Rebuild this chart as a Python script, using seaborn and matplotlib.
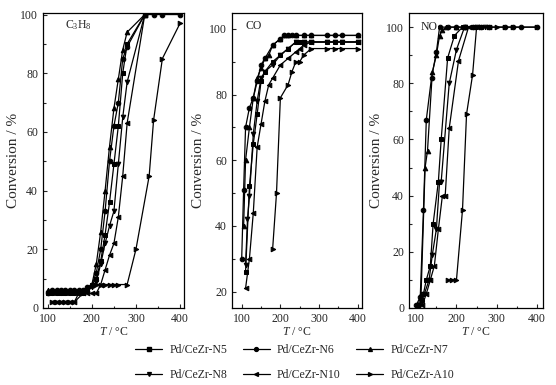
import matplotlib
matplotlib.use("Agg")
import matplotlib.pyplot as plt
import matplotlib.ticker as mticker
from matplotlib.lines import Line2D
import seaborn as sns

# series names and markers
names = ['Pd/CeZr-N5', 'Pd/CeZr-N6', 'Pd/CeZr-N7', 'Pd/CeZr-N8', 'Pd/CeZr-N10', 'Pd/CeZr-A10']
markers = ['s', 'o', '^', 'v', '<', '>']

# C3H8 conversion
c3h8_T = {
    'Pd/CeZr-N5': [100, 110, 120, 130, 140, 150, 160, 170, 180, 190, 200, 210, 220, 230, 240, 250, 260, 270, 280, 320],
    'Pd/CeZr-N6': [100, 110, 120, 130, 140, 150, 160, 170, 180, 190, 200, 210, 220, 230, 240, 250, 260, 270, 280, 320, 340, 360, 400],
    'Pd/CeZr-N7': [100, 110, 120, 130, 140, 150, 160, 170, 180, 190, 200, 210, 220, 230, 240, 250, 260, 270, 280, 320],
    'Pd/CeZr-N8': [100, 110, 120, 130, 140, 150, 160, 170, 180, 190, 200, 210, 220, 230, 240, 250, 260, 270, 280, 320],
    'Pd/CeZr-N10': [110, 120, 130, 140, 150, 160, 170, 180, 190, 200, 210, 220, 230, 240, 250, 260, 270, 280, 320],
    'Pd/CeZr-A10': [110, 120, 130, 140, 150, 160, 180, 210, 220, 230, 240, 250, 260, 280, 300, 330, 340, 360, 400],
}
c3h8_v = {
    'Pd/CeZr-N5': [5, 5, 5, 5, 5, 5, 5, 5, 5, 6, 8, 10, 16, 25, 36, 49, 62, 80, 90, 100],
    'Pd/CeZr-N6': [5, 6, 6, 6, 6, 6, 6, 6, 6, 7, 8, 12, 20, 33, 50, 62, 70, 85, 89, 100, 100, 100, 100],
    'Pd/CeZr-N7': [6, 6, 6, 6, 6, 6, 6, 6, 6, 7, 8, 15, 26, 40, 55, 68, 78, 88, 94, 100],
    'Pd/CeZr-N8': [5, 5, 5, 5, 5, 5, 5, 5, 5, 6, 7, 9, 15, 22, 28, 33, 49, 65, 77, 100],
    'Pd/CeZr-N10': [2, 2, 2, 2, 2, 2, 5, 5, 5, 5, 5, 8, 13, 18, 22, 31, 45, 63, 100],
    'Pd/CeZr-A10': [2, 2, 2, 2, 2, 2, 5, 8, 8, 8, 8, 8, 8, 8, 20, 45, 64, 85, 97],
}

# CO conversion
co_T = {
    'Pd/CeZr-N5': [110, 120, 130, 140, 150, 160, 180, 200, 220, 240, 250, 260, 280, 320, 340, 360, 400],
    'Pd/CeZr-N6': [100, 105, 110, 120, 130, 140, 150, 160, 180, 200, 210, 220, 230, 240, 260, 280, 320, 340, 360, 400],
    'Pd/CeZr-N7': [105, 110, 120, 130, 140, 150, 160, 170, 180, 200, 210, 220, 240, 260, 280, 400],
    'Pd/CeZr-N8': [110, 115, 120, 130, 140, 150, 160, 180, 200, 220, 240, 260, 280, 320, 340, 360, 400],
    'Pd/CeZr-N10': [110, 120, 130, 140, 150, 160, 170, 180, 200, 220, 240, 250, 260, 280, 400],
    'Pd/CeZr-A10': [180, 190, 200, 220, 230, 240, 250, 260, 280, 320, 340, 360, 400],
}
co_v = {
    'Pd/CeZr-N5': [26, 52, 65, 74, 84, 87, 90, 92, 94, 96, 96, 96, 96, 96, 96, 96, 96],
    'Pd/CeZr-N6': [30, 51, 70, 76, 79, 84, 89, 91, 95, 97, 98, 98, 98, 98, 98, 98, 98, 98, 98, 98],
    'Pd/CeZr-N7': [40, 60, 70, 79, 85, 88, 91, 92, 95, 97, 98, 98, 98, 98, 98, 98],
    'Pd/CeZr-N8': [28, 42, 49, 68, 78, 85, 87, 89, 92, 94, 96, 96, 96, 96, 96, 96, 96],
    'Pd/CeZr-N10': [21, 30, 44, 64, 71, 78, 83, 85, 89, 91, 93, 94, 95, 96, 96],
    'Pd/CeZr-A10': [33, 50, 79, 83, 87, 90, 90, 92, 94, 94, 94, 94, 94],
}

# NO conversion
no_T = {
    'Pd/CeZr-N5': [105, 115, 125, 135, 142, 155, 162, 178, 195, 215, 240, 260, 280],
    'Pd/CeZr-N6': [100, 110, 118, 125, 138, 150, 158, 180, 200, 220, 240, 260, 280, 320, 340, 360, 400],
    'Pd/CeZr-N7': [105, 112, 122, 128, 140, 150, 158, 165, 175, 200, 220],
    'Pd/CeZr-N8': [110, 120, 132, 140, 150, 158, 162, 182, 200, 220, 250, 270],
    'Pd/CeZr-N10': [115, 125, 135, 145, 155, 165, 172, 182, 205, 230, 250, 280],
    'Pd/CeZr-A10': [180, 190, 200, 215, 225, 240, 250, 260, 280, 300, 320, 340, 400],
}
no_v = {
    'Pd/CeZr-N5': [1, 3, 10, 15, 30, 45, 60, 89, 97, 100, 100, 100, 100],
    'Pd/CeZr-N6': [1, 4, 35, 67, 82, 91, 100, 100, 100, 100, 100, 100, 100, 100, 100, 100, 100],
    'Pd/CeZr-N7': [1, 5, 50, 56, 84, 90, 97, 99, 100, 100, 100],
    'Pd/CeZr-N8': [1, 5, 10, 19, 28, 45, 45, 80, 92, 100, 100, 100],
    'Pd/CeZr-N10': [1, 5, 10, 15, 28, 40, 40, 64, 88, 100, 100, 100],
    'Pd/CeZr-A10': [10, 10, 10, 35, 69, 83, 100, 100, 100, 100, 100, 100, 100],
}

sns.set_style("ticks")
plt.rcParams['font.family'] = ['Liberation Serif', 'DejaVu Serif']
plt.rcParams['mathtext.fontset'] = 'custom'
plt.rcParams['mathtext.rm'] = 'Liberation Serif'
plt.rcParams['mathtext.it'] = 'Liberation Serif:italic'
plt.rcParams['font.size'] = 8

fig = plt.figure(figsize=(5.56, 3.85), dpi=100)
ax1 = fig.add_axes([0.0773, 0.2, 0.2536, 0.766])
ax2 = fig.add_axes([0.4173, 0.2, 0.2338, 0.766])
ax3 = fig.add_axes([0.7356, 0.2, 0.241, 0.766])

panels = [
    (ax1, c3h8_T, c3h8_v, (89, 409), (0, 100.5), -0.163),
    (ax2, co_T, co_v, (75, 411), (15, 104.8), -0.208),
    (ax3, no_T, no_v, (82, 415), (0, 105), -0.194),
]

for ax, T, v, xl, yl, lab_x in panels:
    for name, m in zip(names, markers):
        sns.lineplot(x=T[name], y=v[name], ax=ax, color='black', marker=m,
                     markersize=3.3, markeredgecolor='black', linewidth=0.9,
                     sort=False, estimator=None)
    ax.set_xlim(*xl)
    ax.set_ylim(*yl)
    ax.xaxis.set_major_locator(mticker.FixedLocator([100, 200, 300, 400]))
    ax.xaxis.set_minor_locator(mticker.FixedLocator([150, 250, 350]))
    ax.yaxis.set_major_locator(mticker.MultipleLocator(20))
    ax.yaxis.set_minor_locator(mticker.MultipleLocator(10))
    ax.tick_params(which='both', direction='in', labelsize=8.5, width=0.8)
    ax.tick_params(which='major', length=3)
    ax.tick_params(which='minor', length=1.8)
    for s in ax.spines.values():
        s.set_linewidth(0.9)
        s.set_color('black')
    ax.set_xlabel('$T$ / °C', fontsize=8.5, labelpad=1)
    ax.set_ylabel('Conversion / %', fontsize=11)
    ax.yaxis.set_label_coords(lab_x, 0.5)

ax1.text(0.156, 0.96, 'C$_3$H$_8$', transform=ax1.transAxes, fontsize=8.5, va='center')
ax2.text(0.1, 0.956, 'CO', transform=ax2.transAxes, fontsize=8.5, va='center')
ax3.text(0.085, 0.952, 'NO', transform=ax3.transAxes, fontsize=8.5, va='center',
         bbox=dict(facecolor='white', edgecolor='none', pad=0.5))

# legend: two rows, three columns (column-major fill order)
handles = [Line2D([0], [0], color='black', marker=m, markersize=2.8, linewidth=0.9)
           for m in markers]
order = [0, 3, 1, 4, 2, 5]
fig.legend([handles[i] for i in order], [names[i] for i in order],
           loc='lower center', bbox_to_anchor=(0.53, -0.018), ncol=3, frameon=False,
           fontsize=8.5, handlelength=2.3, columnspacing=1.3, labelspacing=1.1,
           handletextpad=0.6)

fig.savefig('out.png', dpi=100)
